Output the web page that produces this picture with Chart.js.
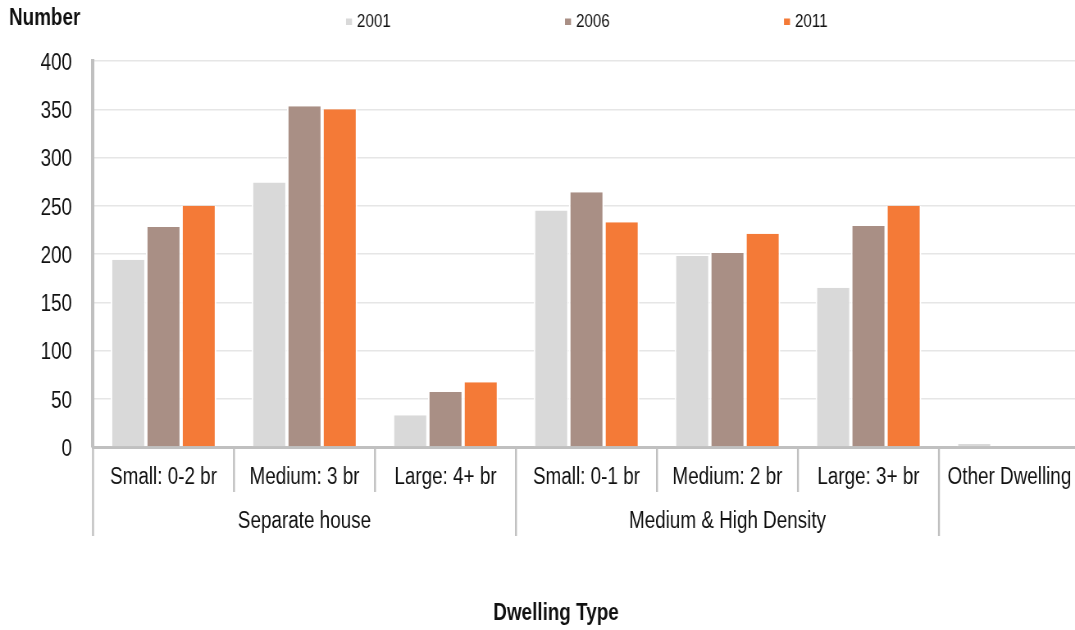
<!DOCTYPE html>
<html>
<head>
<meta charset="utf-8">
<title>Dwelling Type</title>
<script src="https://cdn.jsdelivr.net/npm/chart.js@4.4.1/dist/chart.umd.min.js"></script>
<style>
  html, body { margin: 0; padding: 0; background: #ffffff; overflow: hidden; }
  #wrap { width: 1075px; height: 630px; overflow: hidden; }
  /* narrow-face look: the chart is drawn wide and squeezed horizontally */
  #chart { transform: scaleX(0.82); transform-origin: 0 0; }
</style>
</head>
<body>
<div id="wrap"><canvas id="chart" width="1324" height="630"></canvas></div>
<script>
// Dwelling sub-types (x axis) and the broader dwelling groups they belong to
const categories = ['Small: 0-2 br', 'Medium: 3 br', 'Large: 4+ br',
                    'Small: 0-1 br', 'Medium: 2 br', 'Large: 3+ br', 'Other Dwelling'];
const groups = [
  { label: 'Separate house', from: 0, to: 2 },
  { label: 'Medium & High Density', from: 3, to: 5 },
  { label: '', from: 6, to: 6 }
];

// Census years
const years = ['2001', '2006', '2011'];
const values2001 = [194, 274, 33, 245, 198, 165, 3];
const values2006 = [228, 353, 57, 264, 201, 229, 0];
const values2011 = [250, 350, 67, 233, 221, 250, 0];

const yTicks = [0, 50, 100, 150, 200, 250, 300, 350, 400];

const colors = ['#d9d9d9', '#a98f85', '#f47a37'];
const FONT = "'Liberation Sans', Arial, sans-serif";
const AXIS_GREY = '#c0c0c0';
const SX = 0.82;                 // horizontal squeeze applied by CSS
const cx = v => v / SX;          // page x -> canvas x

// Draws the two-level category axis separators, group names, titles and legend
const decorations = {
  id: 'decorations',
  afterDraw(chart) {
    const ctx = chart.ctx;
    const x = chart.scales.x;
    const area = chart.chartArea;
    const half = (x.getPixelForValue(1) - x.getPixelForValue(0)) / 2;
    const axisY = area.bottom;

    ctx.save();
    ctx.strokeStyle = AXIS_GREY;
    ctx.lineWidth = 2.4;
    // boundaries between sub-types: short for inner ones, long at group edges
    const groupEdges = new Set();
    groups.forEach(g => { groupEdges.add(g.from); groupEdges.add(g.to + 1); });
    for (let i = 0; i <= categories.length; i++) {
      const px = x.getPixelForValue(i) - half;
      const long = groupEdges.has(i);
      ctx.beginPath();
      ctx.moveTo(px, axisY);
      ctx.lineTo(px, axisY + (long ? 89 : 45));
      ctx.stroke();
    }

    // group names
    ctx.fillStyle = '#111';
    ctx.font = '23px ' + FONT;
    ctx.textAlign = 'center';
    ctx.textBaseline = 'middle';
    groups.forEach(g => {
      if (!g.label) return;
      const mid = (x.getPixelForValue(g.from) + x.getPixelForValue(g.to)) / 2;
      ctx.fillText(g.label, mid, axisY + 75);
    });

    // axis titles
    ctx.font = 'bold 23px ' + FONT;
    ctx.textAlign = 'left';
    ctx.fillText('Number', cx(9), 19);
    ctx.textAlign = 'center';
    ctx.fillText('Dwelling Type', cx(556), 614);

    // legend
    const legendX = [346, 565, 784];
    ctx.font = '18.5px ' + FONT;
    ctx.textAlign = 'left';
    chart.data.datasets.forEach((ds, i) => {
      ctx.fillStyle = ds.backgroundColor;
      ctx.fillRect(cx(legendX[i]), 18.5, cx(6), 6.5);
      ctx.fillStyle = '#111';
      ctx.fillText(ds.label, cx(legendX[i] + 11), 22);
    });
    ctx.restore();
  }
};

new Chart(document.getElementById('chart'), {
  type: 'bar',
  data: {
    labels: categories,
    datasets: [
      { label: years[0], data: values2001, backgroundColor: colors[0] },
      { label: years[1], data: values2006, backgroundColor: colors[1] },
      { label: years[2], data: values2011, backgroundColor: colors[2] }
    ]
  },
  options: {
    responsive: false,
    animation: false,
    devicePixelRatio: 1,
    layout: { padding: { left: 0, top: 61, right: 7, bottom: 0 } },
    datasets: {
      bar: {
        categoryPercentage: 0.75,
        barPercentage: 1.0,
        borderColor: '#ffffff',
        borderWidth: { left: 2, right: 2, top: 0, bottom: 0 }
      }
    },
    plugins: {
      legend: { display: false },
      tooltip: { enabled: false },
      title: { display: false }
    },
    scales: {
      x: {
        grid: { display: false, drawTicks: false },
        border: { display: true, color: AXIS_GREY, width: 3 },
        ticks: {
          color: '#111',
          font: { family: FONT, size: 23 },
          padding: 17,
          maxRotation: 0,
          autoSkip: false
        },
        afterFit(scale) { scale.height = 183; }
      },
      y: {
        min: 0,
        max: 400,
        afterBuildTicks(scale) { scale.ticks = yTicks.map(v => ({ value: v })); },
        grid: { color: '#e6e6e6', lineWidth: 1.5, drawTicks: false },
        border: { display: true, color: AXIS_GREY, width: 4 },
        ticks: {
          color: '#111',
          font: { family: FONT, size: 23 },
          padding: cx(21),
          labelOffset: 2.5
        },
        afterFit(scale) { scale.width = cx(93); }
      }
    }
  },
  plugins: [decorations]
});
</script>
</body>
</html>
